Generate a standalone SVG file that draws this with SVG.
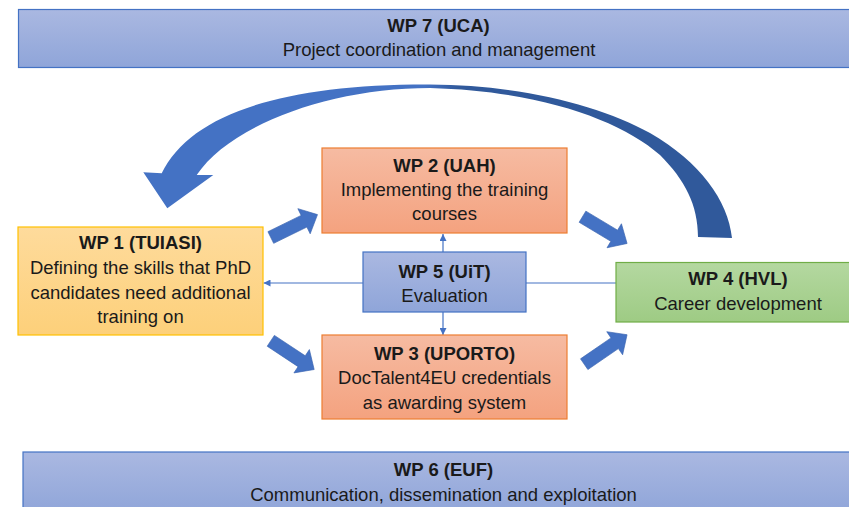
<svg xmlns="http://www.w3.org/2000/svg" width="849" height="507" viewBox="0 0 849 507">
  <defs>
    <linearGradient id="gBlue" x1="0" y1="0" x2="0" y2="1">
      <stop offset="0" stop-color="#aab8e1"/>
      <stop offset="1" stop-color="#8fa5d9"/>
    </linearGradient>
    <linearGradient id="gOrange" x1="0" y1="0" x2="0" y2="1">
      <stop offset="0" stop-color="#f6bba2"/>
      <stop offset="1" stop-color="#f4a27f"/>
    </linearGradient>
    <linearGradient id="gYellow" x1="0" y1="0" x2="0" y2="1">
      <stop offset="0" stop-color="#fedb9c"/>
      <stop offset="1" stop-color="#fdd07a"/>
    </linearGradient>
    <linearGradient id="gGreen" x1="0" y1="0" x2="0" y2="1">
      <stop offset="0" stop-color="#b4d8a0"/>
      <stop offset="1" stop-color="#9ecb84"/>
    </linearGradient>
    <linearGradient id="gCurve" gradientUnits="userSpaceOnUse" x1="0" y1="0" x2="849" y2="0">
      <stop offset="0" stop-color="#4472c4"/>
      <stop offset="0.5" stop-color="#4472c4"/>
      <stop offset="0.54" stop-color="#30599b"/>
      <stop offset="1" stop-color="#30599b"/>
    </linearGradient>
    <marker id="tip" viewBox="0 0 10 10" refX="10" refY="5" markerWidth="7" markerHeight="7" markerUnits="userSpaceOnUse" orient="auto">
      <path d="M0,0 L10,5 L0,10 Z" fill="#4472c4"/>
    </marker>
    <path id="blockArrow" d="M0,-6.5 H37 V-14 L52,0 L37,14 V6.5 H0 Z"/>
  </defs>
  <style>
    .blue { fill: url(#gBlue); stroke: #4472c4; stroke-width: 1.2; }
    .orange { fill: url(#gOrange); stroke: #ed7d31; stroke-width: 1.2; }
    .yellow { fill: url(#gYellow); stroke: #ffc000; stroke-width: 1.2; }
    .green { fill: url(#gGreen); stroke: #70ad47; stroke-width: 1.2; }
    text { font-family: "Liberation Sans", Arial, sans-serif; font-size: 18.5px; fill: #1a1a1a; text-anchor: middle; }
    .t { font-weight: bold; }
    .thin { stroke: #4472c4; stroke-width: 1.2; fill: none; marker-end: url(#tip); }
    .block { fill: #4472c4; stroke: #3a64b0; stroke-width: 0.6; }
  </style>
  <rect width="849" height="507" fill="#ffffff"/>

  <g id="connectors">
    <path d="M161.7,173.3 C190,115 280,84 430,84.5 C520,85 600,105 650,133 C700,162 728,200 732,238 L698,237 C698,205 685,180 660,155 C620,120 540,91 430,88 C330,88 230,125 196.7,175 L213.3,175 L167.3,208.3 L143.3,172.3 Z" fill="url(#gCurve)"/>
    <use href="#blockArrow" class="block" transform="translate(270.8,237.5) rotate(-26.1)"/>
    <use href="#blockArrow" class="block" transform="translate(582.5,216.7) rotate(31)"/>
    <use href="#blockArrow" class="block" transform="translate(270.8,340.8) rotate(33.5)"/>
    <use href="#blockArrow" class="block" transform="translate(584.2,364.2) rotate(-34.5)"/>
    <line class="thin" x1="443" y1="252" x2="443" y2="234"/>
    <line class="thin" x1="443" y1="312" x2="443" y2="335"/>
    <line class="thin" x1="363" y1="283" x2="263.5" y2="283"/>
    <line class="thin" x1="526" y1="283" x2="624" y2="283"/>
  </g>

  <g id="wp7">
    <rect class="blue" x="18.5" y="9.5" width="840" height="58"/>
    <text class="t" x="438.5" y="31.5">WP 7 (UCA)</text>
    <text x="439" y="55.5">Project coordination and management</text>
  </g>

  <g id="wp2">
    <rect class="orange" x="322" y="148" width="245" height="85"/>
    <text class="t" x="444.5" y="171.5">WP 2 (UAH)</text>
    <text x="444.5" y="196">Implementing the training</text>
    <text x="444.5" y="220">courses</text>
  </g>

  <g id="wp1">
    <rect class="yellow" x="18" y="227" width="245" height="108"/>
    <text class="t" x="140.5" y="249">WP 1 (TUIASI)</text>
    <text x="140.5" y="274">Defining the skills that PhD</text>
    <text x="140.5" y="298.5">candidates need additional</text>
    <text x="140.5" y="322.5">training on</text>
  </g>

  <g id="wp5">
    <rect class="blue" x="363" y="252" width="163" height="60"/>
    <text class="t" x="444.5" y="277.5">WP 5 (UiT)</text>
    <text x="444.5" y="301.5">Evaluation</text>
  </g>

  <g id="wp4">
    <rect class="green" x="616" y="262.5" width="245" height="59.5"/>
    <text class="t" x="738" y="285">WP 4 (HVL)</text>
    <text x="738" y="309.5">Career development</text>
  </g>

  <g id="wp3">
    <rect class="orange" x="322" y="335" width="245" height="84"/>
    <text class="t" x="444.5" y="359.5">WP 3 (UPORTO)</text>
    <text x="444.5" y="384">DocTalent4EU credentials</text>
    <text x="444.5" y="408.5">as awarding system</text>
  </g>

  <g id="wp6">
    <rect class="blue" x="23" y="452" width="840" height="62"/>
    <text class="t" x="443.5" y="476">WP 6 (EUF)</text>
    <text x="443.5" y="500.5">Communication, dissemination and exploitation</text>
  </g>
</svg>
